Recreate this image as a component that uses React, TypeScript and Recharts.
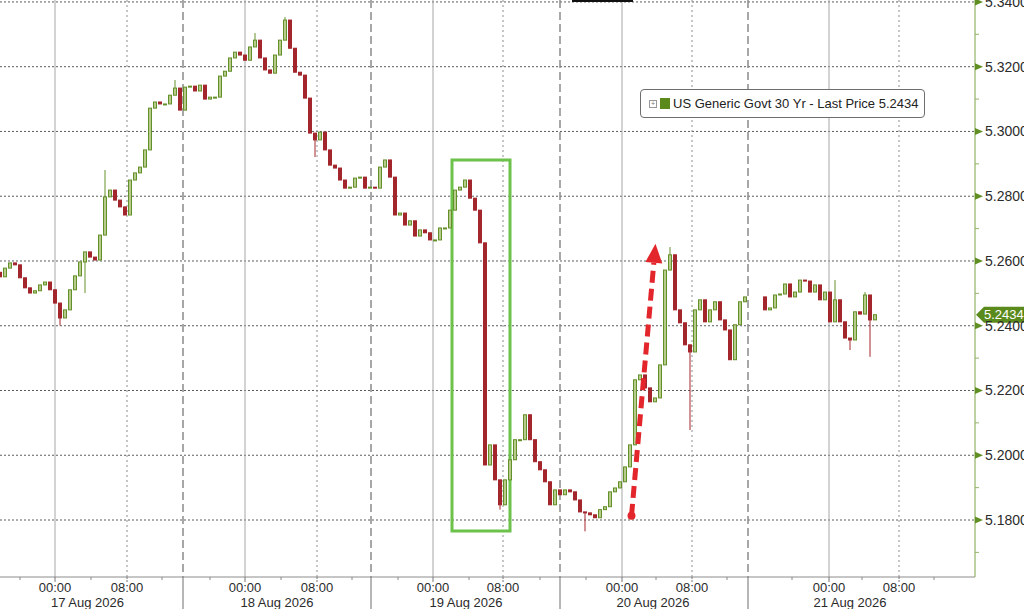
import React from "react";
import {
  ComposedChart,
  Bar,
  XAxis,
  YAxis,
  CartesianGrid,
  ReferenceLine,
  ReferenceArea,
  ReferenceDot,
} from "recharts";

// closing yield of each candle, one slot per candle, grouped by session
const aug17 = [
  5.2551, 5.2578, 5.2594, 5.2588, 5.2548, 5.2517, 5.2501, 5.2508, 5.2526, 5.2535,
  5.2511, 5.247, 5.2424, 5.2449, 5.2511, 5.2554, 5.2597, 5.2628, 5.2612, 5.2603,
  5.268, 5.2798, 5.2819, 5.2788, 5.2767, 5.2742, 5.285, 5.2872, 5.289, 5.2943,
  5.3072, 5.3091, 5.3085, 5.3085, 5.3112, 5.3134, 5.3066,
];
const aug18 = [
  5.3137, 5.314, 5.3125, 5.3143, 5.31, 5.3106, 5.3106, 5.3171, 5.3186, 5.3227,
  5.3245, 5.3236, 5.322, 5.3261, 5.3282, 5.3227, 5.319, 5.318, 5.3236, 5.3282,
  5.3344, 5.3257, 5.3183, 5.3174, 5.3103, 5.2995, 5.2974, 5.2998, 5.2943, 5.2896,
  5.2887, 5.285, 5.2825, 5.2828, 5.2856, 5.2859, 5.2825, 5.2828,
];
const aug19 = [
  5.2825, 5.289, 5.2912, 5.2859, 5.2742, 5.2748, 5.2711, 5.2724, 5.2677, 5.2696,
  5.2687, 5.2665, 5.2665, 5.2702, 5.2702, 5.2757, 5.2819, 5.2828, 5.285, 5.2794,
  5.2757, 5.2656, 5.197, 5.2032, 5.1924, 5.1847, 5.1924, 5.1986, 5.2048, 5.2048,
  5.2125, 5.2048, 5.198, 5.1955, 5.1918, 5.1847, 5.1893,
];
const aug20 = [
  5.1878, 5.1893, 5.1887, 5.1862, 5.1825, 5.1822, 5.1816, 5.1807, 5.1832, 5.1841,
  5.1887, 5.1899, 5.1918, 5.1964, 5.2032, 5.2233, 5.2248, 5.2208, 5.2165, 5.2177,
  5.2279, 5.2572, 5.2619, 5.2449, 5.2409, 5.2341, 5.2319, 5.2449, 5.248, 5.2412,
  5.2449, 5.2474, 5.2418, 5.2387, 5.2295, 5.2403, 5.2474, 5.2489,
];
const aug21 = [
  5.2449, 5.2455, 5.2495, 5.2498, 5.2529, 5.2489, 5.2504, 5.2541, 5.2538, 5.2504,
  5.2526, 5.248, 5.2504, 5.2412, 5.248, 5.2412, 5.2362, 5.2356, 5.2443, 5.2436,
  5.2495, 5.2418, 5.2434,
];
const aug21Start = 153; // first slot after the trading break
const firstOpen = 5.2565;

// wick extremes beyond the bodies: [slot, low, high]
const wicks: [number, number | null, number | null][] = [
  [12, 5.2401, null],
  [17, 5.2501, null],
  [21, null, 5.2881],
  [35, null, 5.3159],
  [51, null, 5.3304],
  [57, null, 5.3353],
  [63, 5.2921, null],
  [100, 5.1832, null],
  [117, 5.1765, null],
  [134, null, 5.2643],
  [138, 5.2078, null],
  [167, null, 5.2541],
  [170, 5.2325, null],
  [173, null, 5.2504],
  [174, 5.2304, null],
];

// time axis, in slots
const slotCount = 195;
const midnightSlots = [11, 49, 86.6, 124.4, 165.8];
const eightSlots = [25.4, 63.4, 100.6, 138.4, 179.8];
const sessionBreaks = [36.6, 74.2, 112, 149.6];
const fourHourSlots = [
  4, 18.2, 32.4, 42, 56.2, 70.4, 79.6, 93.8, 108, 117.2, 131.2, 145.4, 158.4,
  172.4, 186.8,
];
const dayLabelSlots = [17.5, 55.4, 93.2, 130.6, 170];
const dayLabels = ["17 Aug 2026", "18 Aug 2026", "19 Aug 2026", "20 Aug 2026", "21 Aug 2026"];

const majorYields = [5.18, 5.2, 5.22, 5.24, 5.26, 5.28, 5.3, 5.32, 5.34];
const minorYields = [5.17, 5.19, 5.21, 5.23, 5.25, 5.27, 5.29, 5.31, 5.33];
const yDomain = [5.1624, 5.3406];

const seriesName = "US Generic Govt 30 Yr - Last Price";
const lastPrice = 5.2434;

// annotations
const boxSlots = [90.4, 102];
const boxYields = [5.1766, 5.2912];
const arrowFrom = { x: 126.3, y: 5.1813 };
const arrowTo = { x: 131.1, y: 5.2653 };

type Row = {
  slot: number;
  open: number;
  close: number;
  lo: number;
  hi: number;
  range: [number, number];
};

const rows: Row[] = [];
let prev = firstOpen;
const addCandle = (slot: number, close: number) => {
  const open = prev;
  let lo = Math.min(open, close);
  let hi = Math.max(open, close);
  const w = wicks.find((k) => k[0] === slot);
  if (w) {
    if (w[1] != null) lo = Math.min(lo, w[1]);
    if (w[2] != null) hi = Math.max(hi, w[2]);
  }
  rows.push({ slot, open, close, lo, hi, range: [lo, hi] });
  prev = close;
};
[...aug17, ...aug18, ...aug19, ...aug20].forEach((c, i) => addCandle(i, c));
aug21.forEach((c, i) => addCandle(aug21Start + i, c));

const UP_STROKE = "#64902a";
const UP_FILL = "#b7cc8c";
const DOWN = "#a3262c";

const Candle = (props: any) => {
  const { x, y, width, height, payload } = props;
  if (!payload) return null;
  const { open, close, lo, hi } = payload;
  const up = close >= open;
  const span = hi - lo || 1;
  const py = (v: number) => y + ((hi - v) / span) * height;
  const top = py(Math.max(open, close));
  const bot = py(Math.min(open, close));
  const cx = x + width / 2;
  const stroke = up ? UP_STROKE : DOWN;
  return (
    <g>
      <line x1={cx} x2={cx} y1={y} y2={y + height} stroke={stroke} strokeWidth={1} />
      <rect
        x={x}
        y={top}
        width={width}
        height={Math.max(1, bot - top)}
        fill={up ? UP_FILL : DOWN}
        stroke={stroke}
        strokeWidth={1}
      />
    </g>
  );
};

const has = (arr: number[], v: number) => arr.some((a) => Math.abs(a - v) < 1e-6);

const XTick = (props: any) => {
  const { x, y, payload } = props;
  const v = payload.value;
  const font = { fontFamily: "Liberation Sans, Arial, sans-serif", fontSize: 13, fill: "#2b2b2b" };
  if (has(sessionBreaks, v)) {
    return <line x1={x} x2={x} y1={y} y2={y + 32} stroke="#6e6e6e" strokeWidth={1} />;
  }
  if (has(midnightSlots, v) || has(eightSlots, v)) {
    const mid = has(midnightSlots, v);
    return (
      <g>
        <line
          x1={x}
          x2={x}
          y1={y}
          y2={y + 5}
          stroke="#777"
          strokeDasharray={mid ? undefined : "2 1"}
        />
        <text x={x} y={y + 15} textAnchor="middle" {...font}>
          {mid ? "00:00" : "08:00"}
        </text>
      </g>
    );
  }
  const di = dayLabelSlots.findIndex((d) => Math.abs(d - v) < 1e-6);
  if (di >= 0) {
    return (
      <text x={x} y={y + 30} textAnchor="middle" {...font}>
        {dayLabels[di]}
      </text>
    );
  }
  return <line x1={x} x2={x} y1={y} y2={y + 3} stroke="#888" />;
};

const YTick = (props: any) => {
  const { x, y, payload } = props;
  const v = payload.value;
  if (has(majorYields, v)) {
    return (
      <g>
        <polygon points={`${x},${y - 3.5} ${x + 8},${y} ${x},${y + 3.5}`} fill="#5f8f22" />
        <text
          x={x + 10}
          y={y + 5}
          fontFamily="Liberation Sans, Arial, sans-serif"
          fontSize={14}
          fill="#2b2b2b"
        >
          {v.toFixed(4)}
        </text>
      </g>
    );
  }
  return <line x1={x} x2={x + 4} y1={y} y2={y} stroke="#9ab36a" />;
};

const PriceTag = (props: any) => {
  const vb = props.viewBox;
  if (!vb) return null;
  const left = vb.x + vb.width + 1;
  const cy = vb.y;
  return (
    <g>
      <polygon
        points={`${left},${cy} ${left + 8},${cy - 8} ${1024},${cy - 8} ${1024},${cy + 8} ${left + 8},${cy + 8}`}
        fill="#5b8a1c"
      />
      <text
        x={left + 8}
        y={cy + 4.5}
        fill="#ffffff"
        fontFamily="Liberation Sans, Arial, sans-serif"
        fontSize={13}
      >
        {lastPrice.toFixed(4)}
      </text>
    </g>
  );
};

const Arrow = (props: any) => {
  const { x1, y1, x2, y2 } = props;
  if (x1 == null) return null;
  const dx = x2 - x1;
  const dy = y2 - y1;
  const len = Math.sqrt(dx * dx + dy * dy) || 1;
  const ux = dx / len;
  const uy = dy / len;
  const head = 19;
  const half = 8.5;
  const bx = x2 - ux * head;
  const by = y2 - uy * head;
  const px = -uy;
  const py = ux;
  return (
    <g>
      <line
        x1={x1}
        y1={y1}
        x2={bx}
        y2={by}
        stroke="#e3262b"
        strokeWidth={5}
        strokeDasharray="12 6"
      />
      <polygon
        points={`${x2},${y2} ${bx + px * half},${by + py * half} ${bx - px * half},${by - py * half}`}
        fill="#e3262b"
      />
    </g>
  );
};

const xTicks = [
  ...midnightSlots,
  ...eightSlots,
  ...sessionBreaks,
  ...fourHourSlots,
  ...dayLabelSlots,
].sort((a, b) => a - b);
const yTicks = [...minorYields, ...majorYields].sort((a, b) => a - b);

export default function App() {
  return (
    <div style={{ position: "relative", width: 1024, height: 609, background: "#fff" }}>
      <style>{"body{margin:0}"}</style>
      <ComposedChart
        width={1024}
        height={609}
        data={rows}
        margin={{ top: 0, right: 0, bottom: 0, left: 0 }}
      >
        <CartesianGrid
          vertical={false}
          horizontalValues={majorYields}
          stroke="#5c5c5c"
          strokeDasharray="2 2"
        />
        <CartesianGrid horizontal={false} verticalValues={midnightSlots} stroke="#a6a6a6" />
        <CartesianGrid
          horizontal={false}
          verticalValues={eightSlots}
          stroke="#8e8e8e"
          strokeDasharray="2 3"
        />
        <CartesianGrid
          horizontal={false}
          verticalValues={sessionBreaks}
          stroke="#8a8a8a"
          strokeWidth={1.5}
          strokeDasharray="8 4"
        />
        <XAxis
          type="number"
          dataKey="slot"
          domain={[0, slotCount]}
          allowDataOverflow
          ticks={xTicks}
          interval={0}
          tick={<XTick />}
          tickLine={false}
          tickSize={0}
          tickMargin={0}
          height={32}
          axisLine={{ stroke: "#8c8c8c" }}
        />
        <YAxis
          orientation="right"
          domain={yDomain}
          allowDataOverflow
          ticks={yTicks}
          interval={0}
          tick={<YTick />}
          tickLine={false}
          tickSize={0}
          tickMargin={0}
          width={49}
          axisLine={{ stroke: "#7fa347" }}
        />
        <Bar dataKey="range" barSize={3} shape={<Candle />} isAnimationActive={false} />
        <ReferenceArea
          x1={boxSlots[0]}
          x2={boxSlots[1]}
          y1={boxYields[0]}
          y2={boxYields[1]}
          fill="none"
          fillOpacity={0}
          stroke="#6cc24a"
          strokeWidth={3}
        />
        <ReferenceLine
          segment={[arrowFrom, arrowTo]}
          stroke="#e3262b"
          shape={(p: any) => <Arrow {...p} />}
        />
        <ReferenceDot x={arrowFrom.x} y={arrowFrom.y} r={4} fill="#e3262b" stroke="none" />
        <ReferenceLine y={lastPrice} stroke="none" label={<PriceTag />} />
      </ComposedChart>
      <div
        style={{
          position: "absolute",
          left: 572,
          top: 0,
          width: 61,
          height: 2,
          background: "#111",
        }}
      />
      <div
        style={{
          position: "absolute",
          left: 640,
          top: 89,
          width: 283,
          height: 27,
          border: "1px solid #6e6e6e",
          borderRadius: 4,
          background: "#fff",
          display: "flex",
          alignItems: "center",
          fontFamily: "Liberation Sans, Arial, sans-serif",
          fontSize: 13,
          color: "#222",
        }}
      >
        <span
          style={{
            marginLeft: 8,
            width: 6,
            height: 6,
            border: "1px solid #999",
            fontSize: 7,
            lineHeight: "6px",
            textAlign: "center",
            color: "#777",
          }}
        >
          +
        </span>
        <span style={{ marginLeft: 3, width: 10, height: 11, background: "#5b8a1c" }} />
        <span style={{ marginLeft: 3, whiteSpace: "nowrap" }}>
          {`${seriesName} ${lastPrice.toFixed(4)}`}
        </span>
      </div>
    </div>
  );
}
